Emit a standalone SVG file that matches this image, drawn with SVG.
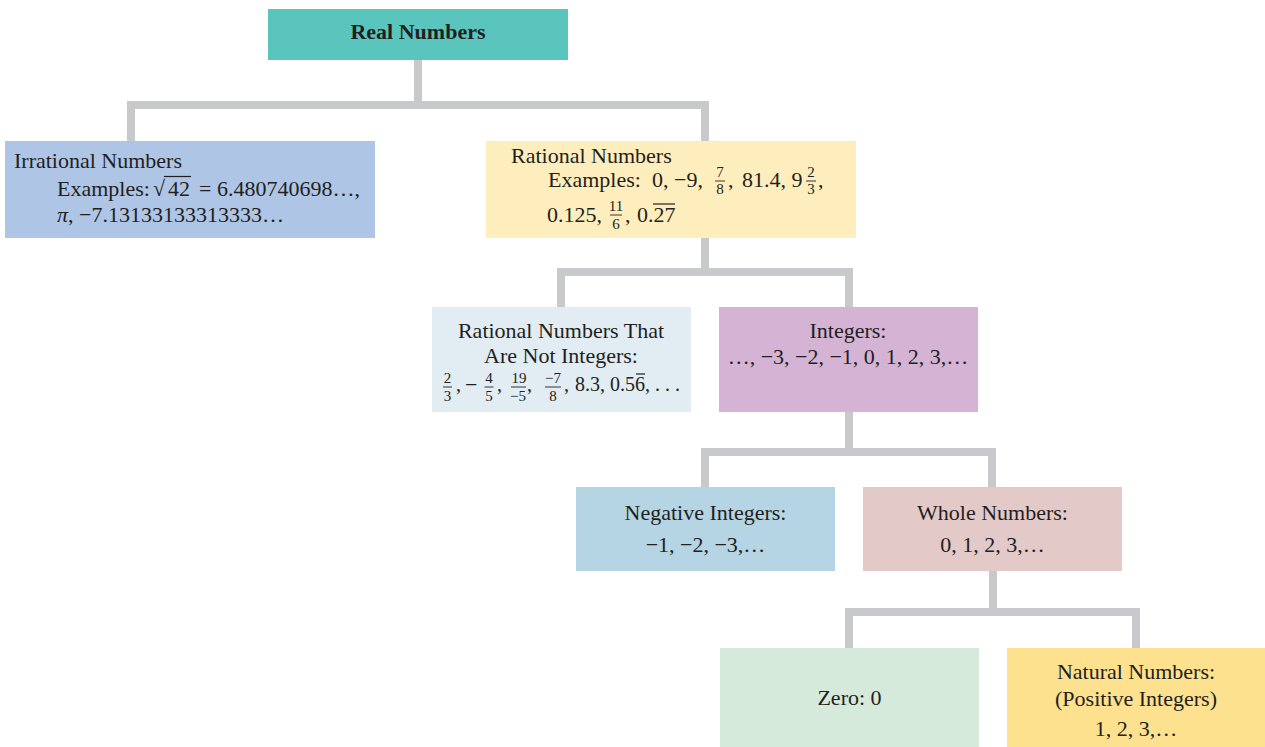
<svg xmlns="http://www.w3.org/2000/svg" width="1265" height="747" viewBox="0 0 1265 747">
<style>
text{font-family:"Liberation Serif","Times New Roman",serif;font-size:22px;fill:#231f20}
.c{text-anchor:middle}
.b{font-weight:bold}
.f{font-size:15px;text-anchor:middle}
.sm{font-size:20px}
.conn{fill:none;stroke:#c8c9cb;stroke-width:8;stroke-linejoin:miter;stroke-linecap:butt}
.bar{stroke:#231f20;stroke-width:0.9}
.ol{stroke:#231f20;stroke-width:1.2}
</style>
<rect width="1265" height="747" fill="#ffffff"/>
<g id="connectors">
<path class="conn" d="M131,141 V105 H705 V141 M418,60 V105"/>
<path class="conn" d="M561,307 V272 H849 V307 M705,238 V272"/>
<path class="conn" d="M705,487 V452 H992 V487 M849,412 V452"/>
<path class="conn" d="M849,648 V612 H1136 V648 M993,571 V612"/>
</g>
<g id="real-numbers">
<rect x="268" y="9" width="300" height="51" fill="#5ac5bd"/>
<text class="c b" x="418" y="39">Real Numbers</text>
</g>
<g id="irrational-numbers">
<rect x="5" y="141" width="370" height="97" fill="#aec5e5"/>
<text x="14" y="168">Irrational Numbers</text>
<text x="57" y="196">Examples:</text>
<text x="153" y="196">√</text>
<line class="ol" x1="164" y1="176.5" x2="191" y2="176.5"/>
<text x="168" y="196">42</text>
<text x="199" y="196">= 6.480740698…,</text>
<text x="57" y="222"><tspan font-style="italic">π</tspan>, −7.13133133313333…</text>
</g>
<g id="rational-numbers">
<rect x="486" y="141" width="370" height="97" fill="#ffeebd"/>
<text x="511" y="163">Rational Numbers</text>
<text x="548" y="187">Examples:</text>
<text x="652" y="187">0, −9,</text>
<text class="f" x="720" y="177">7</text>
<line class="bar" x1="715" y1="181" x2="725" y2="181"/>
<text class="f" x="720" y="194">8</text>
<text x="728" y="187">,</text>
<text x="742" y="187">81.4, 9</text>
<text class="f" x="811" y="177">2</text>
<line class="bar" x1="806" y1="181" x2="816" y2="181"/>
<text class="f" x="811" y="194">3</text>
<text x="818" y="187">,</text>
<text x="547" y="222">0.125,</text>
<text class="f" x="616" y="211">11</text>
<line class="bar" x1="610" y1="215" x2="622" y2="215"/>
<text class="f" x="616" y="229">6</text>
<text x="625" y="222">,</text>
<text x="637" y="222">0.27</text>
<line class="ol" x1="653" y1="204" x2="675" y2="204"/>
</g>
<g id="rational-not-integers">
<rect x="432" y="307" width="259" height="105" fill="#e1ecf3"/>
<text class="c" x="561" y="338">Rational Numbers That</text>
<text class="c" x="561" y="363">Are Not Integers:</text>
<text class="f" x="447.5" y="383">2</text>
<line class="bar" x1="443" y1="387" x2="452" y2="387"/>
<text class="f" x="447.5" y="401">3</text>
<text class="sm" x="456" y="391">,</text>
<text x="465" y="392" font-size="16px">−</text>
<text class="f" x="489" y="383">4</text>
<line class="bar" x1="484.5" y1="387" x2="493.5" y2="387"/>
<text class="f" x="489" y="401">5</text>
<text class="sm" x="497" y="391">,</text>
<text class="f" x="519" y="383">19</text>
<line class="bar" x1="511" y1="387" x2="526" y2="387"/>
<text class="f" x="518" y="401">−5</text>
<text class="sm" x="527" y="391">,</text>
<text class="f" x="553" y="383">−7</text>
<line class="bar" x1="545" y1="387" x2="561" y2="387"/>
<text class="f" x="553" y="401">8</text>
<text class="sm" x="564" y="391">,</text>
<text class="sm" x="575" y="391">8.3, 0.56, . . .</text>
<line class="ol" x1="636" y1="374" x2="645" y2="374"/>
</g>
<g id="integers">
<rect x="719" y="307" width="259" height="105" fill="#d4b3d5"/>
<text class="c" x="848" y="338">Integers:</text>
<text class="c" x="848" y="364">…, −3, −2, −1, 0, 1, 2, 3,…</text>
</g>
<g id="negative-integers">
<rect x="576" y="487" width="259" height="84" fill="#b5d4e4"/>
<text class="c" x="705.5" y="520">Negative Integers:</text>
<text class="c" x="705.5" y="552">−1, −2, −3,…</text>
</g>
<g id="whole-numbers">
<rect x="863" y="487" width="259" height="84" fill="#e3c9c8"/>
<text class="c" x="992.5" y="520">Whole Numbers:</text>
<text class="c" x="992.5" y="552">0, 1, 2, 3,…</text>
</g>
<g id="zero">
<rect x="720" y="648" width="259" height="99" fill="#d6eadb"/>
<text class="c" x="849.5" y="705">Zero: 0</text>
</g>
<g id="natural-numbers">
<rect x="1007" y="648" width="258" height="99" fill="#fde18f"/>
<text class="c" x="1136" y="679">Natural Numbers:</text>
<text class="c" x="1136" y="706">(Positive Integers)</text>
<text class="c" x="1136" y="736">1, 2, 3,…</text>
</g>
</svg>
